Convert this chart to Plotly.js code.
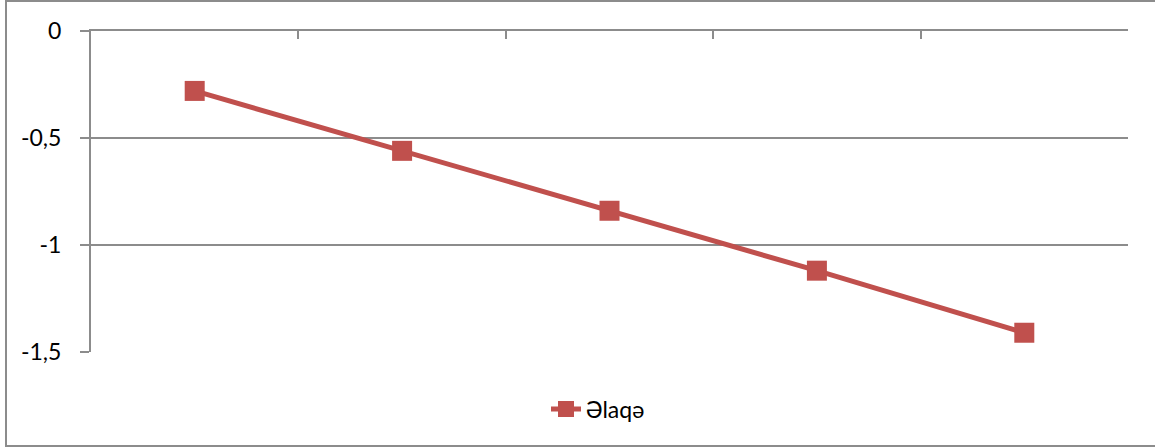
<!DOCTYPE html>
<html>
<head>
<meta charset="utf-8">
<script src="https://cdn.plot.ly/plotly-3.0.1.min.js"></script>
<style>
  html, body { margin: 0; padding: 0; background: #ffffff; }
  #chart { width: 1155px; height: 448px; }
</style>
</head>
<body>
<div id="chart"></div>
<script>
// Data
const categories = ["1", "2", "3", "4", "5"];
const seriesName = "Əlaqə";
const seriesValues = [-0.28, -0.56, -0.84, -1.12, -1.41];
const yTickValues = [0, -0.5, -1, -1.5];
const yTickLabels = ["0", "-0,5", "-1", "-1,5"];

const W = 1155, H = 448;
const mL = 91, mR = 27, mT = 31, mB = 96;
const plotW = W - mL - mR, plotH = H - mT - mB;
const px = x => (x - mL) / plotW;
const py = y => (H - mB - y) / plotH;

const red = "#C0504D";
const axisGray = "#8c8c8c";
const fontFam = "Lato, 'Open Sans', 'DejaVu Sans', sans-serif";

const trace = {
  x: categories,
  y: seriesValues,
  name: seriesName,
  type: "scatter",
  mode: "lines+markers",
  line: { color: red, width: 5 },
  marker: { symbol: "square", size: 20, color: red },
  showlegend: true,
  hoverinfo: "skip"
};

const layout = {
  width: W,
  height: H,
  margin: { l: mL, r: mR, t: mT, b: mB, pad: 0 },
  paper_bgcolor: "#ffffff",
  plot_bgcolor: "#ffffff",
  font: { family: fontFam, size: 23, color: "#000000" },
  showlegend: true,
  legend: {
    orientation: "h",
    x: px(598),
    xanchor: "center",
    y: py(409),
    yanchor: "middle",
    font: { family: fontFam, size: 23, color: "#000000" },
    bgcolor: "rgba(0,0,0,0)"
  },
  xaxis: {
    type: "category",
    range: [-0.5, 4.5],
    side: "top",
    showticklabels: false,
    tickson: "boundaries",
    ticks: "inside",
    ticklen: 8,
    tickwidth: 2,
    tickcolor: axisGray,
    showline: true,
    linecolor: axisGray,
    linewidth: 2,
    showgrid: false,
    zeroline: false,
    fixedrange: true
  },
  yaxis: {
    range: [-1.5, 0],
    tickmode: "array",
    tickvals: yTickValues,
    ticktext: yTickLabels,
    ticks: "outside",
    ticklen: 9,
    tickwidth: 2,
    tickcolor: axisGray,
    ticklabelstandoff: 14,
    showline: true,
    linecolor: axisGray,
    linewidth: 2,
    showgrid: true,
    gridcolor: axisGray,
    gridwidth: 2,
    zeroline: false,
    tickfont: { family: fontFam, size: 23, color: "#000000" },
    fixedrange: true
  },
  shapes: [
    {
      type: "rect",
      xref: "paper", yref: "paper",
      x0: px(6), x1: px(1170),
      y0: py(446), y1: py(1),
      line: { color: axisGray, width: 2 },
      fillcolor: "rgba(0,0,0,0)",
      layer: "below"
    }
  ]
};

Plotly.newPlot("chart", [trace], layout, { displayModeBar: false, staticPlot: true });
</script>
</body>
</html>
